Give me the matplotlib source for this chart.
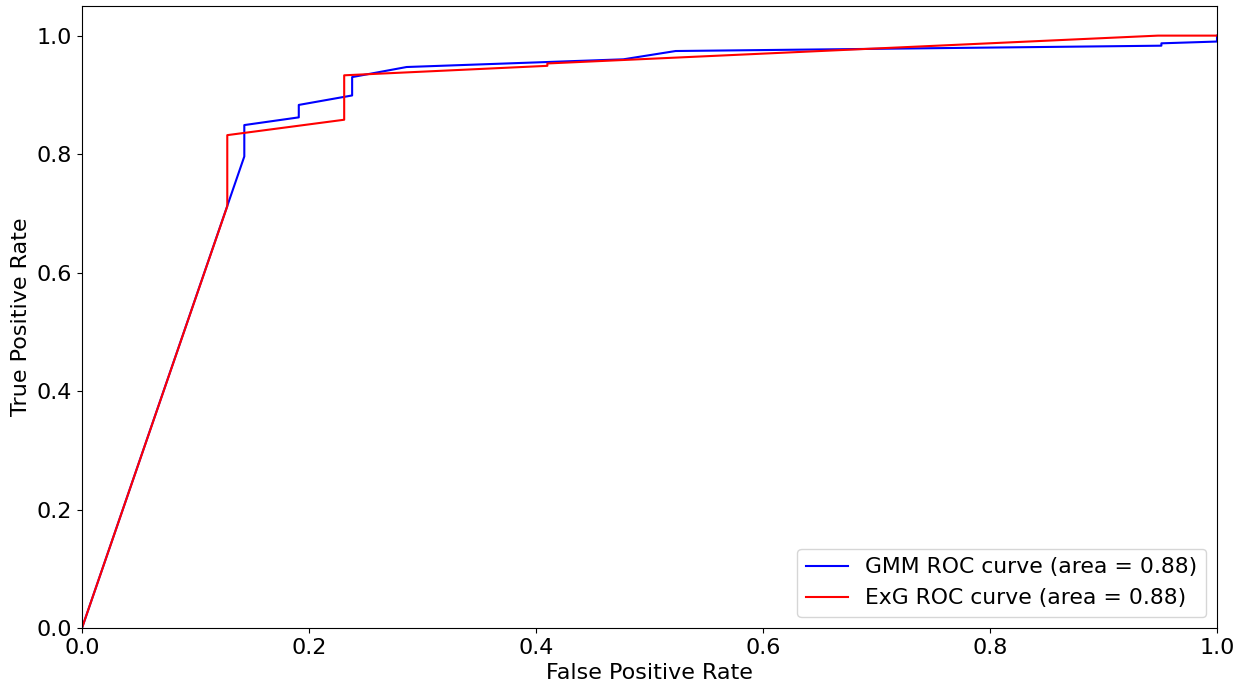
import matplotlib
matplotlib.use("Agg")
import matplotlib.pyplot as plt

# GMM ROC curve points
gmm_fpr = [0.0, 0.143, 0.143, 0.191, 0.191, 0.238, 0.238, 0.286, 0.477, 0.523, 0.951, 0.951, 1.0, 1.0]
gmm_tpr = [0.0, 0.796, 0.849, 0.862, 0.883, 0.899, 0.930, 0.947, 0.960, 0.974, 0.983, 0.987, 0.990, 1.0]

# ExG ROC curve points
exg_fpr = [0.0, 0.128, 0.128, 0.231, 0.231, 0.410, 0.410, 0.948, 1.0]
exg_tpr = [0.0, 0.712, 0.832, 0.858, 0.933, 0.949, 0.953, 1.0, 1.0]

gmm_label = "GMM ROC curve (area = 0.88)"
exg_label = "ExG ROC curve (area = 0.88)"

plt.rcParams['font.family'] = ['DejaVu Sans']
fig = plt.figure(figsize=(12.46, 6.86), dpi=100)
ax = fig.add_axes([82/1246, 1-628/686, (1217-82)/1246, (628-6)/686])

ax.plot(gmm_fpr, gmm_tpr, color='blue', lw=1.5, label=gmm_label)
ax.plot(exg_fpr, exg_tpr, color='red', lw=1.5, label=exg_label)

ax.set_xlim(0.0, 1.0)
ax.set_ylim(0.0, 1.05)
ax.set_xlabel('False Positive Rate', fontsize=16)
ax.set_ylabel('True Positive Rate', fontsize=16)
ax.tick_params(labelsize=16)
ax.legend(loc='lower right', fontsize=15.75, handlelength=1.9)

fig.savefig('out.png', dpi=100)
